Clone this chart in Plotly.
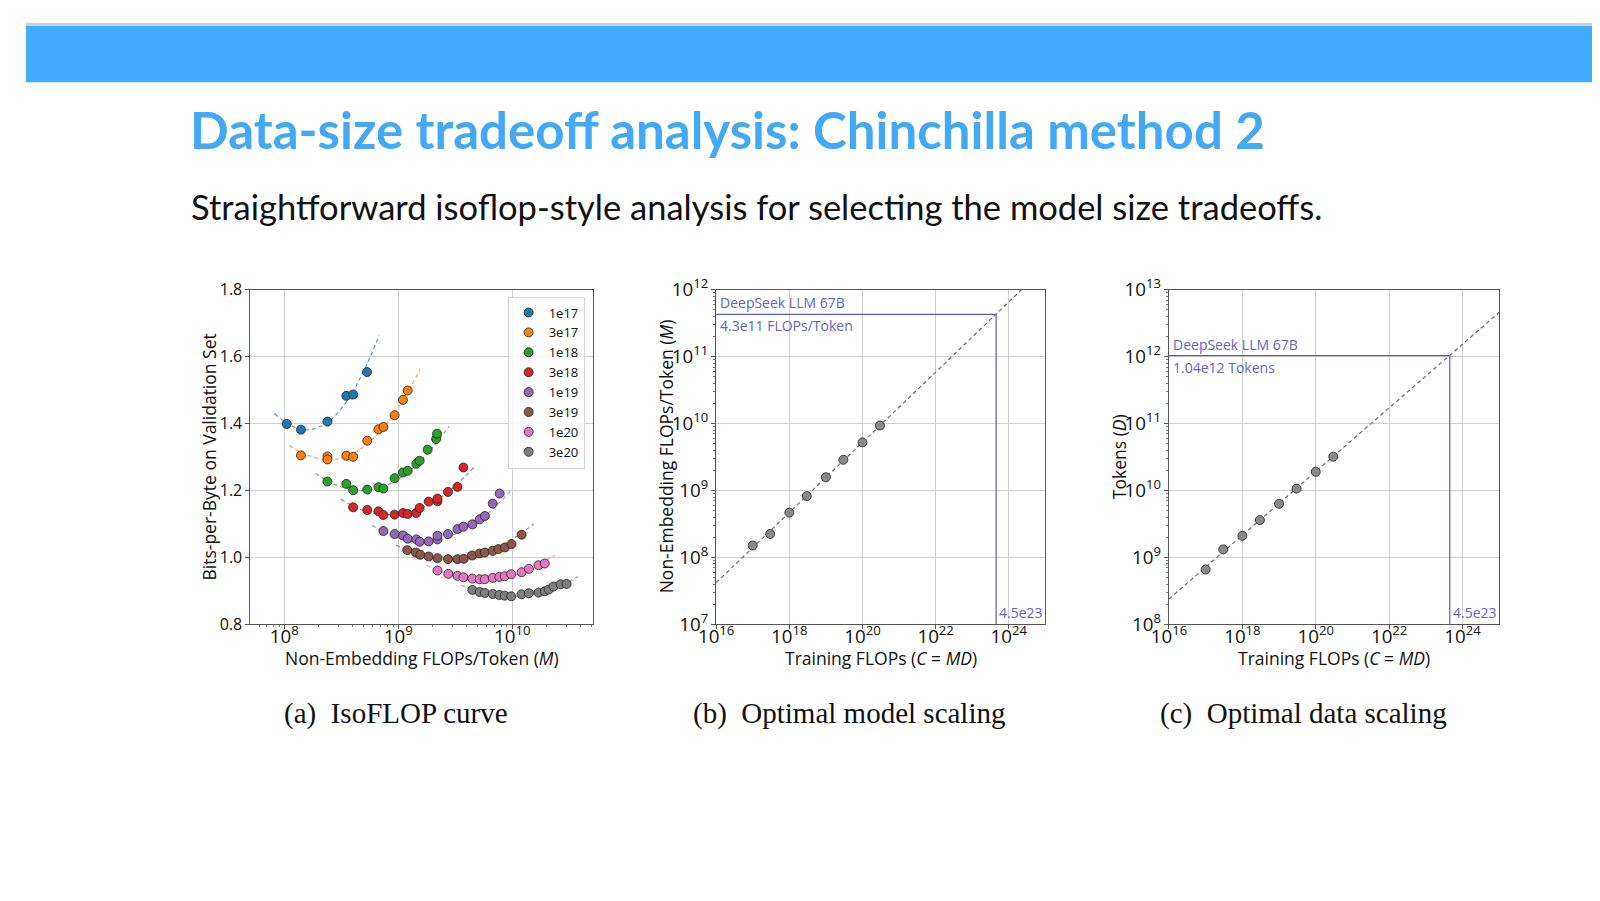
import math
import plotly.graph_objects as go

W, H = 1600, 901

# --- (a) IsoFLOP curves: model scale M vs bits-per-byte, one list per budget
budgets = ["1e17", "3e17", "1e18", "3e18", "1e19", "3e19", "1e20", "3e20"]
colors = ["#1f77b4", "#ff7f0e", "#2ca02c", "#d62728",
          "#9467bd", "#8c564b", "#e377c2", "#7f7f7f"]

m_1e17 = [1.05e8, 1.40e8, 2.39e8, 3.50e8, 4.02e8, 5.32e8]
bpb_1e17 = [1.399, 1.382, 1.406, 1.483, 1.487, 1.554]
m_3e17 = [1.40e8, 2.39e8, 2.39e8, 3.50e8, 4.02e8, 5.35e8, 6.70e8, 7.41e8, 9.29e8, 1.10e9, 1.21e9]
bpb_3e17 = [1.305, 1.302, 1.293, 1.304, 1.301, 1.349, 1.383, 1.390, 1.425, 1.471, 1.499]
m_1e18 = [2.39e8, 3.50e8, 4.02e8, 5.35e8, 6.70e8, 7.41e8, 9.29e8, 1.10e9, 1.21e9, 1.44e9,
          1.54e9, 1.81e9, 2.15e9, 2.19e9]
bpb_1e18 = [1.227, 1.220, 1.201, 1.203, 1.210, 1.206, 1.237, 1.254, 1.259, 1.280,
            1.289, 1.322, 1.354, 1.370]
m_3e18 = [4.02e8, 5.35e8, 6.70e8, 7.41e8, 9.29e8, 1.10e9, 1.21e9, 1.44e9, 1.54e9, 1.85e9,
          2.21e9, 2.21e9, 2.73e9, 3.31e9, 3.73e9]
bpb_3e18 = [1.150, 1.142, 1.138, 1.127, 1.128, 1.133, 1.130, 1.133, 1.148, 1.167,
            1.168, 1.176, 1.196, 1.211, 1.269]
m_1e19 = [7.41e8, 9.29e8, 1.10e9, 1.21e9, 1.44e9, 1.54e9, 1.85e9, 2.21e9, 2.21e9, 2.73e9,
          3.31e9, 3.73e9, 4.47e9, 5.18e9, 5.75e9, 6.75e9, 7.76e9]
bpb_1e19 = [1.079, 1.070, 1.066, 1.056, 1.054, 1.047, 1.048, 1.054, 1.065, 1.070,
            1.085, 1.092, 1.099, 1.114, 1.124, 1.161, 1.191]
m_3e19 = [1.20e9, 1.43e9, 1.56e9, 1.85e9, 2.21e9, 2.73e9, 3.31e9, 3.76e9, 4.44e9, 5.18e9,
          5.75e9, 6.75e9, 7.57e9, 8.63e9, 9.86e9, 1.21e10]
bpb_3e19 = [1.022, 1.015, 1.008, 1.003, 0.998, 0.995, 0.995, 0.996, 1.006, 1.012,
            1.015, 1.020, 1.025, 1.030, 1.040, 1.068]
m_1e20 = [2.21e9, 2.75e9, 3.31e9, 3.73e9, 4.47e9, 5.18e9, 5.75e9, 6.75e9, 7.71e9, 8.58e9,
          9.80e9, 1.21e10, 1.40e10, 1.70e10, 1.93e10]
bpb_1e20 = [0.961, 0.951, 0.945, 0.941, 0.937, 0.935, 0.935, 0.939, 0.942, 0.944,
            0.950, 0.956, 0.966, 0.977, 0.982]
m_3e20 = [4.47e9, 5.18e9, 5.75e9, 6.75e9, 7.71e9, 8.58e9, 9.80e9, 1.21e10, 1.40e10, 1.70e10,
          1.93e10, 2.09e10, 2.30e10, 2.66e10, 3.00e10]
bpb_3e20 = [0.903, 0.897, 0.894, 0.891, 0.888, 0.886, 0.884, 0.890, 0.893, 0.895,
            0.899, 0.904, 0.913, 0.920, 0.921]

# dashed fitted curves
fm_1e17 = [8.2e7, 1.2e8, 1.7e8, 2.5e8, 3.6e8, 5.0e8, 6.8e8]
fb_1e17 = [1.430, 1.391, 1.382, 1.409, 1.471, 1.559, 1.664]
fm_3e17 = [1.1e8, 1.6e8, 2.5e8, 4.0e8, 6.3e8, 1.0e9, 1.55e9]
fb_3e17 = [1.335, 1.306, 1.291, 1.310, 1.362, 1.448, 1.561]
fm_1e18 = [1.88e8, 2.8e8, 4.8e8, 7.9e8, 1.26e9, 2.0e9, 2.79e9]
fb_1e18 = [1.252, 1.217, 1.200, 1.216, 1.259, 1.329, 1.392]
fm_3e18 = [3.14e8, 5.0e8, 8.3e8, 1.41e9, 2.24e9, 3.16e9, 4.6e9]
fb_3e18 = [1.174, 1.140, 1.128, 1.142, 1.175, 1.214, 1.269]
fm_1e19 = [5.9e8, 1.0e9, 1.58e9, 2.51e9, 3.98e9, 6.3e9, 9.7e9]
fb_1e19 = [1.096, 1.057, 1.047, 1.057, 1.087, 1.136, 1.199]
fm_3e19 = [9.55e8, 1.58e9, 2.82e9, 5.0e9, 7.9e9, 1.12e10, 1.54e10]
fb_3e19 = [1.037, 1.006, 0.994, 1.006, 1.034, 1.065, 1.100]
fm_1e20 = [1.77e9, 3.16e9, 5.5e9, 1.0e10, 1.58e10, 2.37e10]
fb_1e20 = [0.976, 0.945, 0.935, 0.947, 0.973, 1.007]
fm_3e20 = [3.56e9, 5.6e9, 9.8e9, 1.58e10, 2.51e10, 3.78e10]
fb_3e20 = [0.917, 0.894, 0.884, 0.892, 0.912, 0.943]

iso_m = [m_1e17, m_3e17, m_1e18, m_3e18, m_1e19, m_3e19, m_1e20, m_3e20]
iso_b = [bpb_1e17, bpb_3e17, bpb_1e18, bpb_3e18, bpb_1e19, bpb_3e19, bpb_1e20, bpb_3e20]
fit_m = [fm_1e17, fm_3e17, fm_1e18, fm_3e18, fm_1e19, fm_3e19, fm_1e20, fm_3e20]
fit_b = [fb_1e17, fb_3e17, fb_1e18, fb_3e18, fb_1e19, fb_3e19, fb_1e20, fb_3e20]

# --- (b)/(c) optimal model / data scaling
opt_c = [1e17, 3e17, 1e18, 3e18, 1e19, 3e19, 1e20, 3e20]
opt_m = [1.51e8, 2.25e8, 4.69e8, 8.27e8, 1.58e9, 2.88e9, 5.25e9, 9.36e9]
opt_d = [6.62e8, 1.32e9, 2.11e9, 3.63e9, 6.34e9, 1.07e10, 1.91e10, 3.21e10]
line_c = [1e16, 1e25]
line_m = [4.2e7, 2.2e12]
line_d = [2.4e8, 4.6e12]
ds_c = 4.5e23
ds_m = 4.3e11
ds_d = 1.04e12

FONT = "Open Sans"
BLUE = "#43a9f4"
MARK = "#5b5bb3"
MARK_TXT = "#6464c6"


def px(x):
    return x / W


def py(y):
    return 1 - y / H


fig = go.Figure()

# (a)
for i, b in enumerate(budgets):
    fig.add_trace(go.Scatter(
        x=fit_m[i], y=fit_b[i], mode="lines", xaxis="x", yaxis="y",
        line=dict(color=colors[i], width=1.2, dash="4px,3px", shape="spline"),
        opacity=0.7, showlegend=False, hoverinfo="skip"))
for i, b in enumerate(budgets):
    fig.add_trace(go.Scatter(
        x=iso_m[i], y=iso_b[i], mode="markers", name=b, xaxis="x", yaxis="y",
        marker=dict(color=colors[i], size=9, line=dict(color="#222", width=0.8))))

# (b)
fig.add_trace(go.Scatter(x=[line_c[0], ds_c, ds_c], y=[ds_m, ds_m, 1e7], mode="lines",
                         xaxis="x2", yaxis="y2", line=dict(color=MARK, width=1.2),
                         showlegend=False))
fig.add_trace(go.Scatter(x=line_c, y=line_m, mode="lines", xaxis="x2", yaxis="y2",
                         line=dict(color="#6e6e6e", width=1.2, dash="4px,3px"),
                         showlegend=False))
fig.add_trace(go.Scatter(x=opt_c, y=opt_m, mode="markers", xaxis="x2", yaxis="y2",
                         marker=dict(color="#8a8a8a", size=9, line=dict(color="#222", width=0.8)),
                         showlegend=False))

# (c)
fig.add_trace(go.Scatter(x=[line_c[0], ds_c, ds_c], y=[ds_d, ds_d, 1e8], mode="lines",
                         xaxis="x3", yaxis="y3", line=dict(color=MARK, width=1.2),
                         showlegend=False))
fig.add_trace(go.Scatter(x=line_c, y=line_d, mode="lines", xaxis="x3", yaxis="y3",
                         line=dict(color="#6e6e6e", width=1.2, dash="4px,3px"),
                         showlegend=False))
fig.add_trace(go.Scatter(x=opt_c, y=opt_d, mode="markers", xaxis="x3", yaxis="y3",
                         marker=dict(color="#8a8a8a", size=9, line=dict(color="#222", width=0.8)),
                         showlegend=False))

lin_font = dict(family=FONT, size=16, color="#111")
log_font = dict(family=FONT, size=15, color="#111")
common = dict(showline=True, linecolor="#555", linewidth=1, mirror=True,
              showgrid=True, gridcolor="#d0d0d0", gridwidth=1, zeroline=False,
              ticks="outside", ticklen=4, tickcolor="#555")
logax = dict(type="log", exponentformat="power", showexponent="all", tickfont=log_font)
minor = dict(ticks="outside", ticklen=2, tickcolor="#777", showgrid=False)

fig.update_layout(
    width=W, height=H, margin=dict(l=0, r=0, t=0, b=0),
    paper_bgcolor="white", plot_bgcolor="white",
    font=dict(family=FONT, color="#111"),
    xaxis=dict(domain=[px(227), px(573)], anchor="y", range=[7.703, 10.705], dtick=1,
               minor=minor, ticklabelstandoff=-8, **logax, **common),
    yaxis=dict(domain=[py(620), py(275)], anchor="x", range=[0.8, 1.8], dtick=0.2,
               tickformat=".1f", tickfont=lin_font, **common),
    xaxis2=dict(domain=[px(698), px(1031)], anchor="y2", range=[16, 25], dtick=2,
                ticklabelstandoff=-8, **logax, **common),
    yaxis2=dict(domain=[py(620), py(275)], anchor="x2", range=[7, 12], dtick=1,
                minor=minor, **logax, **common),
    xaxis3=dict(domain=[px(1156), px(1490)], anchor="y3", range=[16, 25], dtick=2,
                ticklabelstandoff=-8, **logax, **common),
    yaxis3=dict(domain=[py(620), py(275)], anchor="x3", range=[8, 13], dtick=1,
                minor=minor, **logax, **common),
    legend=dict(x=px(565), y=py(282), xanchor="right", yanchor="top",
                bgcolor="rgba(255,255,255,0.85)", bordercolor="#d6d6d6", borderwidth=1,
                font=dict(family=FONT, size=13, color="#111")),
    showlegend=True,
)

# axis titles
title_font = dict(family=FONT, size=17.5, color="#111")
x_titles = [("Non-Embedding FLOPs/Token (<i>M</i>)", 400),
            ("Training FLOPs (<i>C</i> = <i>MD</i>)", 865),
            ("Training FLOPs (<i>C</i> = <i>MD</i>)", 1323)]
for t, cx in x_titles:
    fig.add_annotation(text=t, xref="paper", yref="paper", x=px(cx), y=py(655),
                       xanchor="center", yanchor="middle", showarrow=False, font=title_font)
y_titles = [("Bits-per-Byte on Validation Set", 185),
            ("Non-Embedding FLOPs/Token (<i>M</i>)", 647),
            ("Tokens (<i>D</i>)", 1105)]
for t, cx in y_titles:
    fig.add_annotation(text=t, xref="paper", yref="paper", x=px(cx), y=py(447),
                       xanchor="center", yanchor="middle", textangle=-90, showarrow=False,
                       font=title_font)

# slide banner
fig.add_shape(type="rect", xref="paper", yref="paper", x0=0, x1=1, y0=py(3), y1=1,
              fillcolor="#cfcfcf", line_width=0, layer="below")
fig.add_shape(type="rect", xref="paper", yref="paper", x0=0, x1=1, y0=py(61), y1=py(3),
              fillcolor="#42acfc", line_width=0, layer="below")

fig.add_annotation(text="<b>Data-size tradeoff analysis: Chinchilla method 2</b>",
                   xref="paper", yref="paper", x=px(164), y=py(110), xanchor="left",
                   yanchor="middle", showarrow=False,
                   font=dict(family="Lato", size=51, color=BLUE))
fig.add_annotation(text="Straightforward isoflop-style analysis for selecting the model size tradeoffs.",
                   xref="paper", yref="paper", x=px(165), y=py(189), xanchor="left",
                   yanchor="middle", showarrow=False,
                   font=dict(family="Lato", size=34.5, color="#111"))

captions = ["(a)\u00a0\u00a0IsoFLOP curve", "(b)\u00a0\u00a0Optimal model scaling",
            "(c)\u00a0\u00a0Optimal data scaling"]
cap_x = [374, 833, 1292]
for t, cx in zip(captions, cap_x):
    fig.add_annotation(text=t, xref="paper", yref="paper", x=px(cx), y=py(712),
                       xanchor="center", yanchor="middle", showarrow=False,
                       font=dict(family="Liberation Serif", size=29, color="#111"))

# DeepSeek LLM 67B markers text
lab = dict(family=FONT, size=14, color=MARK_TXT)
fig.add_annotation(text="DeepSeek LLM 67B", xref="x2", yref="y2", x=16, y=math.log10(ds_m),
                   xanchor="left", yanchor="bottom", xshift=2, showarrow=False, font=lab)
fig.add_annotation(text="4.3e11 FLOPs/Token", xref="x2", yref="y2", x=16, y=math.log10(ds_m),
                   xanchor="left", yanchor="top", xshift=2, showarrow=False, font=lab)
fig.add_annotation(text="4.5e23", xref="x2", yref="y2", x=math.log10(ds_c), y=7,
                   xanchor="left", yanchor="bottom", xshift=1, showarrow=False, font=lab)
fig.add_annotation(text="DeepSeek LLM 67B", xref="x3", yref="y3", x=16, y=math.log10(ds_d),
                   xanchor="left", yanchor="bottom", xshift=2, showarrow=False, font=lab)
fig.add_annotation(text="1.04e12 Tokens", xref="x3", yref="y3", x=16, y=math.log10(ds_d),
                   xanchor="left", yanchor="top", xshift=2, showarrow=False, font=lab)
fig.add_annotation(text="4.5e23", xref="x3", yref="y3", x=math.log10(ds_c), y=8,
                   xanchor="left", yanchor="bottom", xshift=1, showarrow=False, font=lab)

fig.write_html("out.html")
